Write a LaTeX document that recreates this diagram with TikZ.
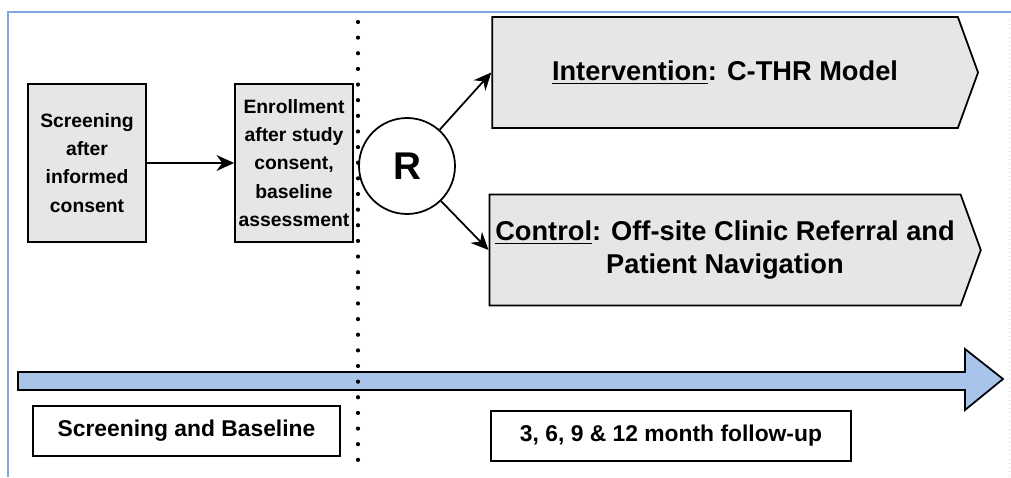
\documentclass[tikz,border=0pt]{standalone}
\usepackage{fontspec}
\setmainfont{Liberation Sans}
\usetikzlibrary{shapes.symbols,arrows.meta}
\definecolor{boxgray}{HTML}{E6E6E6}
\definecolor{timeblue}{HTML}{A9C4EB}
\definecolor{framecol}{HTML}{7EA6E0}
\tikzstyle{box} = [draw=black, fill=boxgray, line width=1pt, align=center, inner sep=1pt, minimum width=2.36cm, minimum height=3.16cm, font={\fontsize{11}{16}\selectfont\bfseries}]
\tikzstyle{arm} = [draw=black, fill=boxgray, line width=1pt, signal, signal to=east, signal pointer angle=140, minimum width=9.72cm, minimum height=2.22cm, align=center, font={\fontsize{15.5}{19}\selectfont\bfseries}]
\tikzstyle{rand} = [draw=black, fill=white, line width=1pt, circle, minimum size=1.92cm, font={\fontsize{22}{26}\selectfont\bfseries}]
\tikzstyle{period} = [draw=black, fill=white, line width=1pt, minimum height=1cm, font={\fontsize{13}{16}\selectfont\bfseries}]
\tikzstyle{flow} = [-{Stealth[length=10pt,width=9pt]}, line width=1pt]

\begin{document}
\begin{tikzpicture}[x=0.02cm, y=-0.02cm]
        \useasboundingbox (0,0) rectangle (1011,477);
        \draw[framecol, line width=0.7pt] (8,477) -- (8,12) -- (1011,12);
        \draw[gray!40, dotted] (1009,20) -- (1009,477);
        % timeline
        \draw[fill=timeblue, line width=1pt] (18,372) -- (965,372) -- (965,349) -- (1003,379)
                -- (965,410) -- (965,390) -- (18,390) -- cycle;
        \draw[line width=2.4pt, line cap=round, dash pattern=on 0pt off 8.9pt] (358,22) -- (358,472);
        \node[box](screen) at (87,163){Screening\\after\\informed\\consent};
        \node[box](enrol) at (294,163){Enrollment\\after study\\consent,\\baseline\\assessment};
        \node[rand](R) at (407,166){R};
        \node[arm](interv) at (725,72.5){\underline{Intervention}: C-THR Model};
        \node[arm](control) at (725,250){\underline{Control}: Off-site Clinic Referral and\\Patient Navigation};
        \node[period, minimum width=6.14cm](base) at (186.5,431){Screening and Baseline};
        \node[period, minimum width=7.2cm](follow) at (671,436){3, 6, 9 \& 12 month follow-up};
        \draw[flow](screen)--(enrol);
        \draw[flow](R)--(interv.west);
        \draw[flow](R)--(control.west);
\end{tikzpicture}
\end{document}
